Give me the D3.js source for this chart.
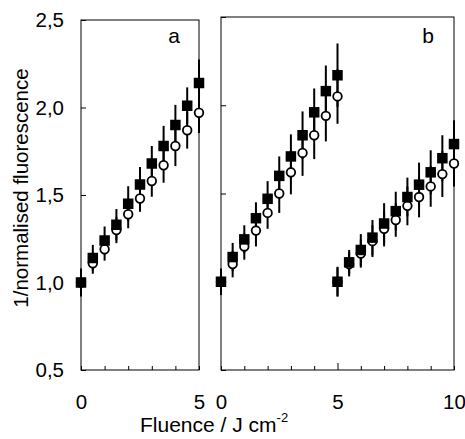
<!DOCTYPE html>
<html>
<head>
<meta charset="utf-8">
<script src="https://cdn.jsdelivr.net/npm/d3@7"></script>
<style>
  html, body { margin: 0; padding: 0; background: #fff; }
  svg { display: block; font-family: "Liberation Sans", Arial, Helvetica, sans-serif; }
</style>
</head>
<body>
<svg id="chart" width="465" height="439"></svg>
<script>
// ---------- data ----------
// Panel a
const fluenceA      = [0, 0.5, 1, 1.5, 2, 2.5, 3, 3.5, 4, 4.5, 5];
const squaresA      = [1.00, 1.14, 1.24, 1.33, 1.45, 1.56, 1.68, 1.78, 1.90, 2.01, 2.14];
const squaresErrA   = [0.08, 0.075, 0.08, 0.09, 0.10, 0.10, 0.10, 0.115, 0.115, 0.105, 0.135];
const circlesA      = [1.00, 1.11, 1.19, 1.30, 1.39, 1.48, 1.58, 1.67, 1.78, 1.87, 1.97];
const circlesErrA   = [0.07, 0.06, 0.065, 0.075, 0.08, 0.075, 0.09, 0.10, 0.115, 0.105, 0.115];
// Panel b, first run
const fluenceB1     = [0, 0.5, 1, 1.5, 2, 2.5, 3, 3.5, 4, 4.5, 5];
const squaresB1     = [1.00, 1.14, 1.24, 1.36, 1.47, 1.60, 1.71, 1.83, 1.96, 2.08, 2.17];
const squaresErrB1  = [0.075, 0.08, 0.08, 0.09, 0.10, 0.11, 0.125, 0.135, 0.135, 0.145, 0.18];
const circlesB1     = [1.00, 1.10, 1.20, 1.29, 1.39, 1.50, 1.62, 1.73, 1.83, 1.94, 2.05];
const circlesErrB1  = [0.07, 0.075, 0.075, 0.09, 0.09, 0.11, 0.125, 0.13, 0.135, 0.145, 0.155];
// Panel b, second run
const fluenceB2     = [5, 5.5, 6, 6.5, 7, 7.5, 8, 8.5, 9, 9.5, 10];
const squaresB2     = [1.00, 1.11, 1.18, 1.25, 1.33, 1.40, 1.48, 1.55, 1.62, 1.70, 1.78];
const squaresErrB2  = [0.085, 0.07, 0.09, 0.10, 0.115, 0.11, 0.11, 0.125, 0.125, 0.13, 0.135];
const circlesB2     = [1.00, 1.10, 1.16, 1.23, 1.30, 1.35, 1.43, 1.48, 1.54, 1.61, 1.67];
const circlesErrB2  = [0.08, 0.07, 0.08, 0.09, 0.10, 0.095, 0.11, 0.115, 0.115, 0.13, 0.13];

const yTickValues   = [0.5, 1.0, 1.5, 2.0, 2.5];
const xTicksA       = [0, 1, 2, 3, 4, 5];
const xLabelsA      = [0, 5];
const xTicksB       = [0, 1, 2, 3, 4, 5, 6, 7, 8, 9, 10];
const xLabelsB      = [0, 5, 10];
const panelNames    = ["a", "b"];
const yTitle        = "1/normalised fluorescence";
const xTitle        = "Fluence / J cm";
const xTitleSup     = "-2";

// ---------- layout ----------
const svg = d3.select("#chart");
const bottom = 370;
const xA = d3.scaleLinear().domain([0, 5]).range([81, 199]);
const xB = d3.scaleLinear().domain([0, 10]).range([221, 454]);
const yA = d3.scaleLinear().domain([0.5, 2.5]).range([bottom, 20]);
const yB = d3.scaleLinear().domain([0.5, 2.5]).range([bottom, 17]);
const fmt = d => d3.format(".1f")(d).replace(".", ",");

function frame(x, y) {
  const [x0, x1] = x.range();
  const [y0, y1] = y.range();
  svg.append("rect")
    .attr("x", x0).attr("y", y1)
    .attr("width", x1 - x0).attr("height", y0 - y1)
    .attr("fill", "none").attr("stroke", "#000").attr("stroke-width", 1);
}

function axes(x, y, xTicks, xLabels, showYLabels, majorX) {
  const ya = d3.axisLeft(y).tickValues(yTickValues).tickSize(-5).tickPadding(17)
    .tickFormat(d => showYLabels ? fmt(d) : "");
  const gy = svg.append("g").attr("transform", `translate(${x.range()[0]},0)`).call(ya);
  gy.select(".domain").remove();
  gy.selectAll("line").attr("stroke", "#000");
  gy.selectAll("text").attr("font-size", 20.5).attr("fill", "#000");

  const xa = d3.axisBottom(x).tickValues(xTicks).tickSize(-4).tickPadding(24)
    .tickFormat(d => xLabels.includes(d) ? String(d) : "");
  const gx = svg.append("g").attr("transform", `translate(0,${bottom})`).call(xa);
  gx.select(".domain").remove();
  gx.selectAll("line").attr("stroke", "#000")
    .attr("y2", d => majorX.includes(d) ? -7 : -4);
  gx.selectAll("text").attr("font-size", 20.5).attr("fill", "#000");
  svg.node().appendChild(svg.node().removeChild(gx.node()));
}

function series(x, y, xs, sq, sqErr, ci, ciErr) {
  const g = svg.append("g");
  const bars = [];
  xs.forEach((f, i) => {
    bars.push({ f, v: ci[i], e: ciErr[i] });
    bars.push({ f, v: sq[i], e: sqErr[i] });
  });
  g.selectAll("line.err").data(bars).join("line")
    .attr("class", "err")
    .attr("x1", d => x(d.f)).attr("x2", d => x(d.f))
    .attr("y1", d => y(d.v - d.e)).attr("y2", d => y(d.v + d.e))
    .attr("stroke", "#000").attr("stroke-width", 2);
  g.selectAll("circle").data(xs.map((f, i) => ({ f, v: ci[i] }))).join("circle")
    .attr("cx", d => x(d.f)).attr("cy", d => y(d.v)).attr("r", 4.3)
    .attr("fill", "#fff").attr("stroke", "#000").attr("stroke-width", 1.8);
  const s = 10.5;
  g.selectAll("rect").data(xs.map((f, i) => ({ f, v: sq[i] }))).join("rect")
    .attr("x", d => x(d.f) - s / 2).attr("y", d => y(d.v) - s / 2)
    .attr("width", s).attr("height", s).attr("fill", "#000");
}

frame(xA, yA);
frame(xB, yB);
axes(xA, yA, xTicksA, xLabelsA, true, []);
axes(xB, yB, xTicksB, xLabelsB, false, [5]);

series(xA, yA, fluenceA, squaresA, squaresErrA, circlesA, circlesErrA);
series(xB, yB, fluenceB1, squaresB1, squaresErrB1, circlesB1, circlesErrB1);
series(xB, yB, fluenceB2, squaresB2, squaresErrB2, circlesB2, circlesErrB2);

// panel letters
svg.append("text").attr("x", 174).attr("y", 43).attr("text-anchor", "middle")
  .attr("font-size", 21).text(panelNames[0]);
svg.append("text").attr("x", 428).attr("y", 43).attr("text-anchor", "middle")
  .attr("font-size", 21).text(panelNames[1]);

// axis titles
svg.append("text")
  .attr("transform", "translate(28,188) rotate(-90)")
  .attr("text-anchor", "middle").attr("font-size", 20.5)
  .text(yTitle);
const xt = svg.append("text").attr("x", 140).attr("y", 432).attr("font-size", 21);
xt.append("tspan").text(xTitle);
xt.append("tspan").attr("font-size", 13).attr("dy", -10).text(xTitleSup);
</script>
</body>
</html>
